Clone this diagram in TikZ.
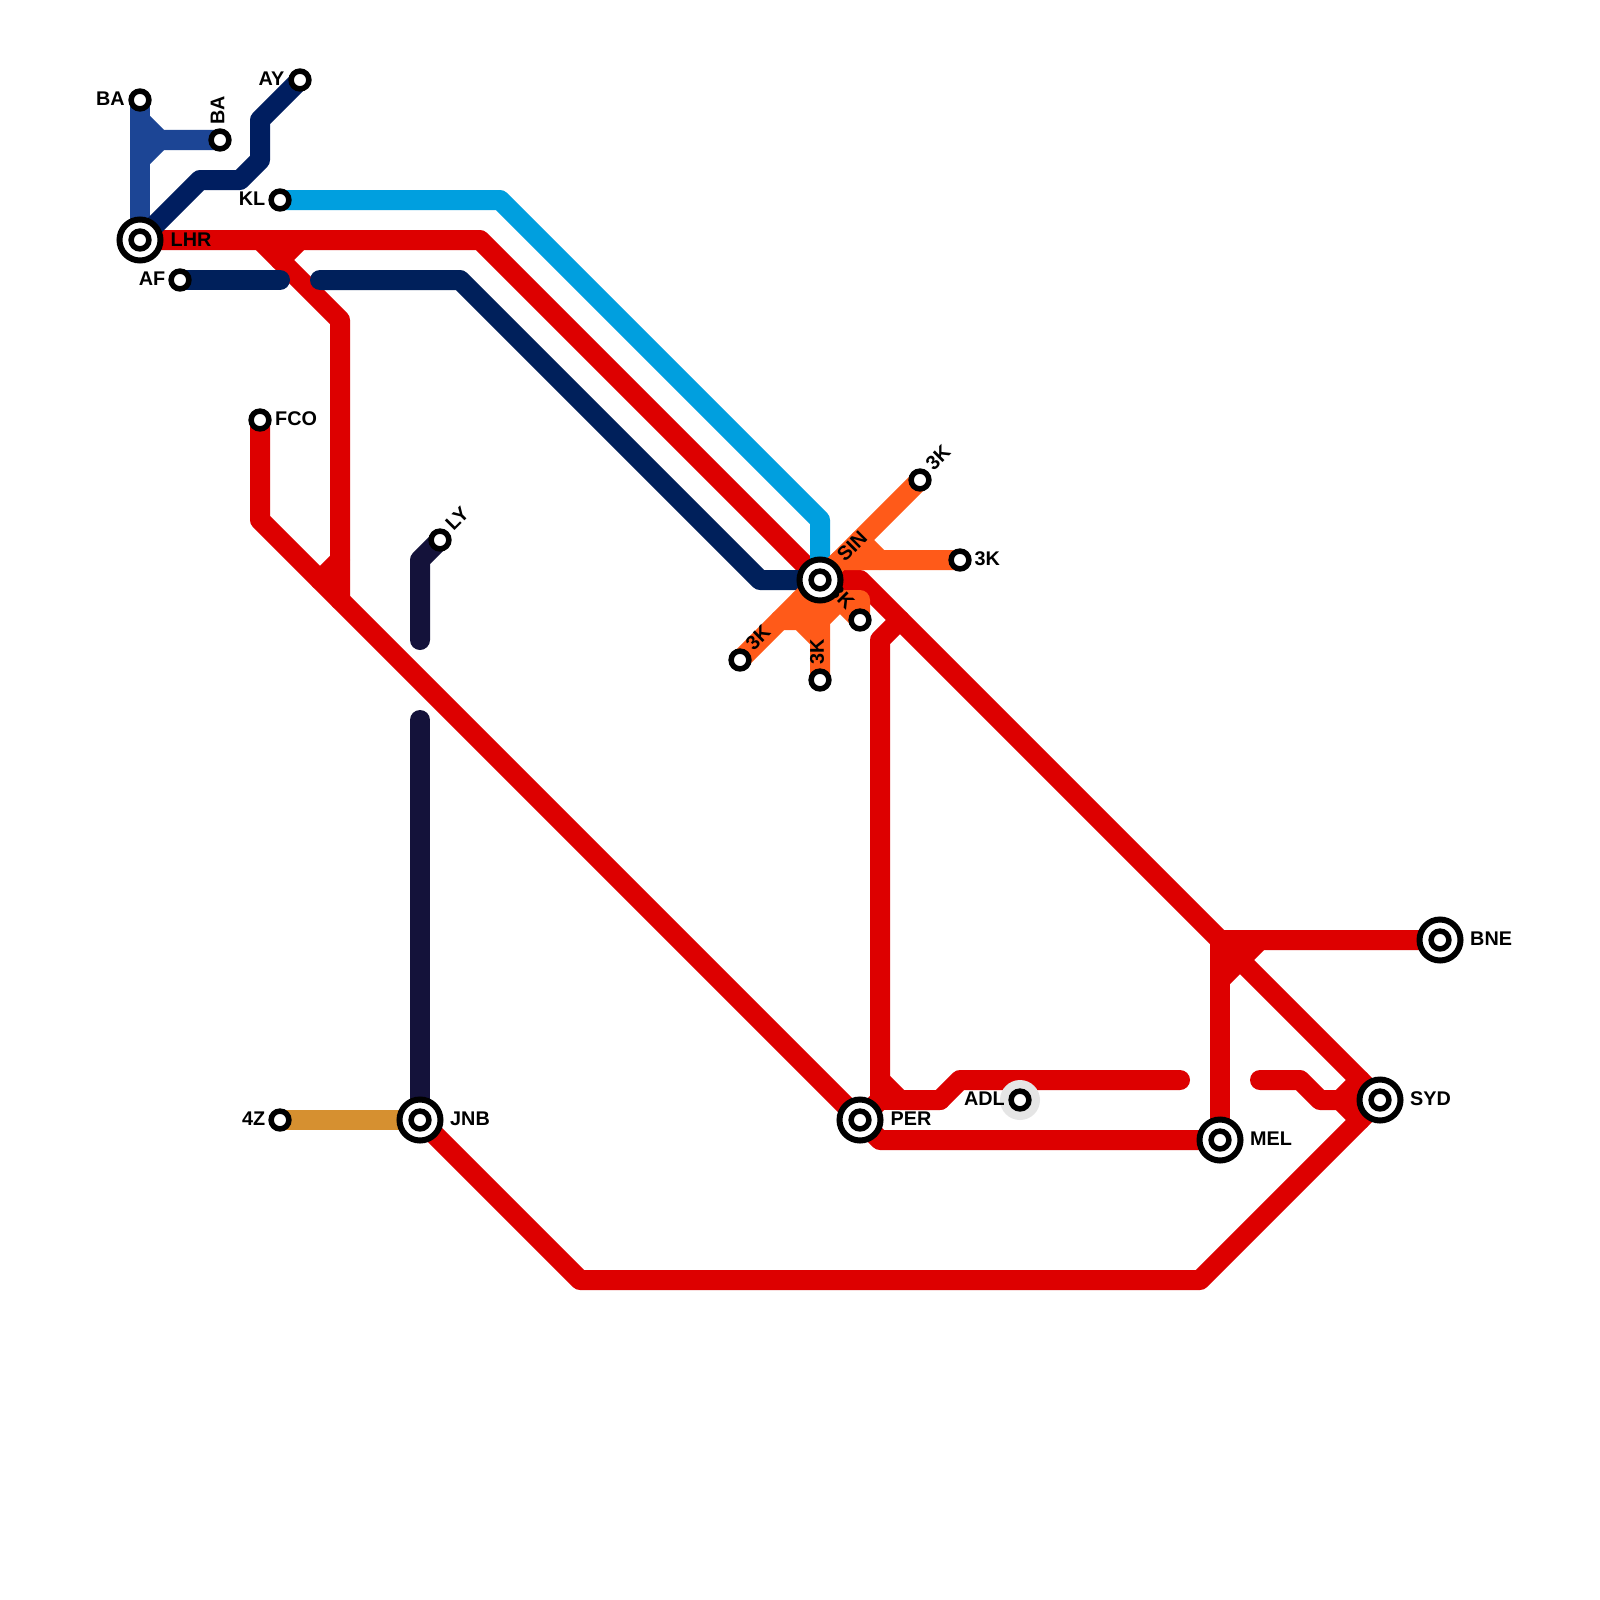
\documentclass[tikz,border=0pt]{standalone}
\usepackage{fontspec}
\setmainfont{Liberation Sans}
\definecolor{cred}{HTML}{DD0000}
\definecolor{cnavy}{HTML}{00205B}
\definecolor{cdblue}{HTML}{001E60}
\definecolor{cblue}{HTML}{1C4595}
\definecolor{ccyan}{HTML}{009FDF}
\definecolor{corange}{HTML}{FF5A19}
\definecolor{cink}{HTML}{14123A}
\definecolor{cgold}{HTML}{D69030}
\definecolor{chalo}{HTML}{E5E5E5}
\tikzset{
  route/.style={line width=20pt,line cap=round,line join=round},
  bigstop/.style={circle,draw=black,line width=6pt,fill=white,minimum size=41pt,inner sep=0pt},
  smallstop/.style={circle,draw=black,line width=5.5pt,fill=white,minimum size=17.8pt,inner sep=0pt},
  lab/.style={font=\fontsize{19.8pt}{22pt}\selectfont\bfseries,inner sep=0pt,text=black},
}
\begin{document}
\begin{tikzpicture}[x=1pt,y=-1pt]
\useasboundingbox (0,0) rectangle (1600,1600);
\fill[white] (0,0) rectangle (1600,1600);
% station positions
\coordinate (LHR) at (140,240);
\coordinate (BAa) at (140,100);
\coordinate (BAb) at (220,140);
\coordinate (AY) at (300,80);
\coordinate (KL) at (280,200);
\coordinate (AF) at (180,280);
\coordinate (FCO) at (260,420);
\coordinate (LY) at (440,540);
\coordinate (JNB) at (420,1120);
\coordinate (FZ) at (280,1120);
\coordinate (SIN) at (820,580);
\coordinate (TKa) at (920,480);
\coordinate (TKb) at (960,560);
\coordinate (TKc) at (860,620);
\coordinate (TKd) at (740,660);
\coordinate (TKe) at (820,680);
\coordinate (PER) at (860,1120);
\coordinate (ADL) at (1020,1100);
\coordinate (MEL) at (1220,1140);
\coordinate (SYD) at (1380,1100);
\coordinate (BNE) at (1440,940);
% routes
\draw[route,cred] (LHR) -- (480,240) -- (SIN) -- (860,580) -- (1220,940) -- (BNE);
\draw[route,cred] (1220,940) -- (SYD);
\draw[route,cred] (260,240) -- (340,320) -- (340,600);
\draw[route,cred] (280,260) -- (300,240);
\draw[route,cred] (FCO) -- (260,520) -- (PER);
\draw[route,cred] (320,580) -- (340,560);
\draw[route,cred] (JNB) -- (580,1280) -- (1200,1280) -- (SYD);
\draw[route,cred] (900,620) -- (880,640) -- (880,1100) -- (PER);
\draw[route,cred] (880,1080) -- (900,1100) -- (940,1100) -- (960,1080) -- (1180,1080);
\draw[route,cred] (880,1100) -- (940,1100);
\draw[route,cred] (PER) -- (880,1140) -- (MEL);
\draw[route,cred] (1220,940) -- (MEL);
\draw[route,cred] (1220,980) -- (1260,940);
\draw[route,cred] (1260,1080) -- (1300,1080) -- (1320,1100) -- (SYD);
\draw[route,cred] (1340,1100) -- (1360,1080);
\draw[route,cred] (1340,1100) -- (1360,1120);
\draw[route,cblue] (BAa) -- (LHR);
\draw[route,cblue] (140,120) -- (160,140) -- (BAb);
\draw[route,cblue] (140,160) -- (160,140);
\draw[route,cdblue] (AY) -- (260,120) -- (260,160) -- (240,180) -- (200,180) -- (LHR);
\draw[route,ccyan] (KL) -- (500,200) -- (820,520) -- (SIN);
\draw[route,cnavy] (AF) -- (280,280);
\draw[route,cnavy] (320,280) -- (460,280) -- (760,580) -- (SIN);
\draw[route,cink] (LY) -- (420,560) -- (420,640);
\draw[route,cink] (420,720) -- (JNB);
\draw[route,cgold] (FZ) -- (JNB);
\draw[route,corange] (TKa) -- (SIN);
\draw[route,corange] (TKb) -- (840,560) -- (SIN);
\draw[route,corange] (860,540) -- (880,560);
\draw[route,corange] (TKd) -- (SIN);
\draw[route,corange] (780,620) -- (800,620) -- (820,640);
\draw[route,corange] (TKe) -- (820,620) -- (840,600) -- (860,600) -- (TKc);
\draw[route,corange] (SIN) -- (TKc);
\draw[route,corange] (800,600) -- (840,600);
\draw[route,corange] (800,610) -- (820,610);
% ADL halo
\fill[chalo] (ADL) circle (20pt);
% labels
\node[lab,anchor=east] at (125,98.7) {BA};
\node[lab,rotate=90] at (217.5,110) {BA};
\node[lab,anchor=east] at (284.5,78.7) {AY};
\node[lab,anchor=east] at (265.5,198.7) {KL};
\node[lab,anchor=west] at (170.5,239.7) {LHR};
\node[lab,anchor=east] at (165.5,278.7) {AF};
\node[lab,anchor=west] at (275,418.7) {FCO};
\node[lab,rotate=45] at (457,518.5) {LY};
\node[lab,anchor=west] at (450,1118.7) {JNB};
\node[lab,anchor=east] at (265.5,1118.7) {4Z};
\node[lab,rotate=45] at (852,546) {SIN};
\node[lab,rotate=45] at (938,458) {3K};
\node[lab,anchor=west] at (974.5,558.7) {3K};
\node[lab,rotate=-45] at (842,597) {3K};
\node[lab,rotate=45] at (758,638) {3K};
\node[lab,rotate=90] at (817,652) {3K};
\node[lab,anchor=east] at (1005,1098.7) {ADL};
\node[lab,anchor=west] at (890.5,1118.7) {PER};
\node[lab,anchor=west] at (1250,1138.7) {MEL};
\node[lab,anchor=west] at (1410,1098.7) {SYD};
\node[lab,anchor=west] at (1470,938.7) {BNE};
% stations
\foreach \p/\n in {LHR/sLHR,JNB/sJNB,SIN/sSIN,PER/sPER,MEL/sMEL,SYD/sSYD,BNE/sBNE}{
  \node[bigstop] (\n) at (\p) {};
  \node[smallstop] (\n i) at (\p) {};
}
\foreach \p/\n in {BAa/sBAa,BAb/sBAb,AY/sAY,KL/sKL,AF/sAF,FCO/sFCO,LY/sLY,FZ/sFZ,TKa/sTKa,TKb/sTKb,TKc/sTKc,TKd/sTKd,TKe/sTKe,ADL/sADL}{
  \node[smallstop] (\n) at (\p) {};
}
\end{tikzpicture}
\end{document}
